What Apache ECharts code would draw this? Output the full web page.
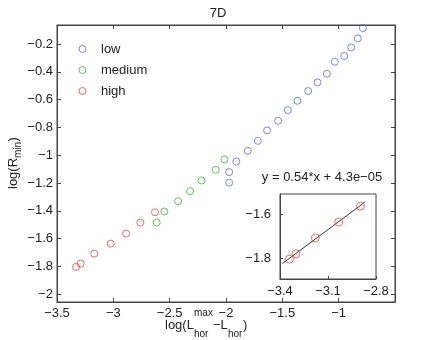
<!DOCTYPE html>
<html>
<head>
<meta charset="utf-8">
<script src="https://cdn.jsdelivr.net/npm/echarts@6/dist/echarts.min.js"></script>
<style>
  html, body { margin: 0; padding: 0; background: #fff; }
  #chart { width: 436px; height: 340px; }
</style>
</head>
<body>
<div id="chart"></div>
<script>
// values
const lowX = [-1.972, -1.972, -1.908, -1.807, -1.718, -1.635, -1.537, -1.451, -1.366, -1.271, -1.188, -1.105, -1.034, -0.951, -0.889, -0.830, -0.785]
const lowY = [-1.196, -1.121, -1.045, -0.968, -0.896, -0.821, -0.752, -0.675, -0.608, -0.538, -0.476, -0.414, -0.327, -0.286, -0.224, -0.159, -0.085]
const mediumX = [-2.615, -2.547, -2.425, -2.319, -2.218, -2.091, -2.014]
const mediumY = [-1.484, -1.404, -1.330, -1.258, -1.181, -1.105, -1.030]
const highX = [-3.331, -3.290, -3.169, -3.023, -2.887, -2.760, -2.630]
const highY = [-1.803, -1.779, -1.707, -1.635, -1.563, -1.484, -1.410]
// fit line end points (inset)
const fitX = [-3.375, -2.860]
const fitY = [-1.823, -1.545]
const insetCount = 5

const yTicks = [-2, -1.8, -1.6, -1.4, -1.2, -1, -0.8, -0.6, -0.4, -0.2]
const insetXTicks = [-3.39, -3.09, -2.79]
const insetYTicks = [-1.8, -1.6]

const FONT = 'Liberation Sans, Arial, Helvetica, sans-serif'
const AXIS = '#444'
const BLUE = '#5566ff'
const GREEN = '#33bb33'
const RED = '#ff4040'
const minus = v => String(v).replace('-', '\u2212')
const pairs = (xs, ys) => xs.map((x, i) => [x, ys[i]])
const ring = c => ({ color: 'rgba(0,0,0,0)', borderColor: c, borderWidth: 1 })

const chart = echarts.init(document.getElementById('chart'), null, { renderer: 'canvas' })

const lineStyle = { color: AXIS, width: 1 }
const option = {
  animation: false,
  backgroundColor: '#fff',
  textStyle: { fontFamily: FONT },
  title: {
    text: '7D',
    left: 'center',
    top: 2,
    textStyle: { fontFamily: FONT, fontSize: 13, fontWeight: 'normal', color: '#222' }
  },
  legend: {
    data: ['low', 'medium', 'high'],
    orient: 'vertical',
    left: 73.5,
    top: 37,
    itemWidth: 27,
    itemHeight: 7,
    itemGap: 7,
    itemStyle: { borderWidth: 1 },
    textStyle: { fontFamily: FONT, fontSize: 13, lineHeight: 14, color: '#222' }
  },
  grid: [
    { left: 57, right: 41, top: 25, bottom: 38, show: true, borderColor: AXIS, borderWidth: 1, backgroundColor: '#fff' },
    { left: 280, width: 96, top: 194, height: 85, show: true, borderColor: AXIS, borderWidth: 1, backgroundColor: '#fff', z: 5 }
  ],
  xAxis: [
    {
      gridIndex: 0, type: 'value', min: -3.5, max: -0.5, interval: 0.5,
      axisLine: { lineStyle }, splitLine: { show: false },
      axisTick: { inside: true, length: 4, lineStyle },
      axisLabel: { margin: 5, fontSize: 13, color: '#222', fontFamily: FONT, formatter: minus, showMaxLabel: false }
    },
    {
      gridIndex: 0, type: 'value', position: 'top', min: -3.5, max: -0.5, interval: 0.5,
      axisLine: { lineStyle }, splitLine: { show: false },
      axisTick: { inside: true, length: 4, lineStyle },
      axisLabel: { show: false }
    },
    {
      gridIndex: 1, type: 'value', min: -3.39, max: -2.79,
      axisLine: { lineStyle }, splitLine: { show: false },
      axisTick: { inside: true, length: 3, lineStyle, customValues: insetXTicks },
      axisLabel: { margin: 6, fontSize: 13, color: '#222', fontFamily: FONT, customValues: insetXTicks, formatter: v => minus(v.toFixed(1)) },
      z: 6
    }
  ],
  yAxis: [
    {
      gridIndex: 0, type: 'value', min: -2.055, max: -0.063,
      axisLine: { lineStyle }, splitLine: { show: false },
      axisTick: { inside: true, length: 4, lineStyle, customValues: yTicks },
      axisLabel: { margin: 4, fontSize: 13, color: '#222', fontFamily: FONT, customValues: yTicks, formatter: minus }
    },
    {
      gridIndex: 0, type: 'value', position: 'right', min: -2.055, max: -0.063,
      axisLine: { lineStyle }, splitLine: { show: false },
      axisTick: { inside: true, length: 4, lineStyle, customValues: yTicks },
      axisLabel: { show: false }
    },
    {
      gridIndex: 1, type: 'value', min: -1.893, max: -1.508,
      axisLine: { lineStyle }, splitLine: { show: false },
      axisTick: { inside: true, length: 3, lineStyle, customValues: insetYTicks },
      axisLabel: { margin: 9, fontSize: 13, color: '#222', fontFamily: FONT, customValues: insetYTicks, formatter: minus },
      z: 6
    }
  ],
  series: [
    { name: 'low', type: 'scatter', xAxisIndex: 0, yAxisIndex: 0, symbol: 'circle', symbolSize: 7, itemStyle: ring(BLUE), data: pairs(lowX, lowY) },
    { name: 'medium', type: 'scatter', xAxisIndex: 0, yAxisIndex: 0, symbol: 'circle', symbolSize: 7, itemStyle: ring(GREEN), data: pairs(mediumX, mediumY) },
    { name: 'high', type: 'scatter', xAxisIndex: 0, yAxisIndex: 0, symbol: 'circle', symbolSize: 7, itemStyle: ring(RED), data: pairs(highX, highY) },
    { name: 'fit', type: 'line', xAxisIndex: 2, yAxisIndex: 2, showSymbol: false, z: 7, lineStyle: { color: '#333', width: 1 }, data: pairs(fitX, fitY) },
    { name: 'inset', type: 'scatter', xAxisIndex: 2, yAxisIndex: 2, z: 8, symbol: 'circle', symbolSize: 8, itemStyle: ring(RED), data: pairs(highX.slice(0, insetCount), highY.slice(0, insetCount)) }
  ],
  graphic: [
    // fit equation
    { type: 'text', x: 322, y: 177, z: 10, style: { text: 'y = 0.54*x + 4.3e\u221205', fontFamily: FONT, fontSize: 13, fill: '#222', align: 'center', verticalAlign: 'middle' } },
    // x axis name
    { type: 'text', x: 165, y: 325, style: { text: 'log(L', fontFamily: FONT, fontSize: 13, fill: '#222', verticalAlign: 'middle' } },
    { type: 'text', x: 194, y: 313.5, style: { text: 'max', fontFamily: FONT, fontSize: 10, fill: '#222', verticalAlign: 'middle' } },
    { type: 'text', x: 194, y: 334, style: { text: 'hor', fontFamily: FONT, fontSize: 10, fill: '#222', verticalAlign: 'middle' } },
    { type: 'text', x: 213, y: 325, style: { text: '\u2212L', fontFamily: FONT, fontSize: 13, fill: '#222', verticalAlign: 'middle' } },
    { type: 'text', x: 228, y: 334, style: { text: 'hor', fontFamily: FONT, fontSize: 10, fill: '#222', verticalAlign: 'middle' } },
    { type: 'text', x: 243, y: 325, style: { text: ')', fontFamily: FONT, fontSize: 13, fill: '#222', verticalAlign: 'middle' } },
    // y axis name (rotated)
    {
      type: 'group', x: 13, y: 163, rotation: Math.PI / 2,
      children: [
        { type: 'text', x: -26, y: 0, style: { text: 'log(R', fontFamily: FONT, fontSize: 13, fill: '#222', verticalAlign: 'middle' } },
        { type: 'text', x: 5, y: 5, style: { text: 'min', fontFamily: FONT, fontSize: 10, fill: '#222', verticalAlign: 'middle' } },
        { type: 'text', x: 21.5, y: 0, style: { text: ')', fontFamily: FONT, fontSize: 13, fill: '#222', verticalAlign: 'middle' } }
      ]
    }
  ]
}

chart.setOption(option)
</script>
</body>
</html>
